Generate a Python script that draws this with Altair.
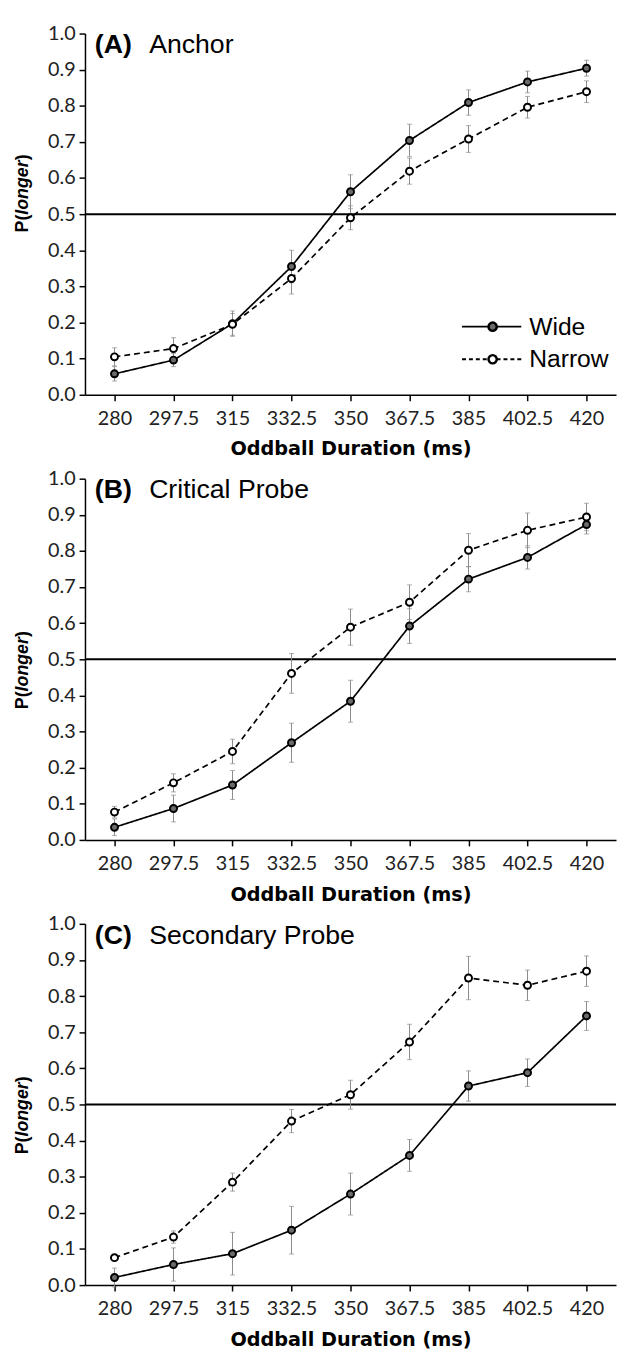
import altair as alt
import pandas as pd

durations = ["280", "297.5", "315", "332.5", "350", "367.5", "385", "402.5", "420"]

a_wide = [0.058, 0.096, 0.197, 0.355, 0.562, 0.704, 0.809, 0.866, 0.904]
a_wide_err = [0.020, 0.018, 0.035, 0.045, 0.047, 0.045, 0.035, 0.030, 0.022]
a_narrow = [0.105, 0.128, 0.195, 0.322, 0.490, 0.619, 0.708, 0.796, 0.839]
a_narrow_err = [0.025, 0.030, 0.030, 0.043, 0.033, 0.036, 0.037, 0.030, 0.030]

b_wide = [0.035, 0.087, 0.152, 0.269, 0.384, 0.592, 0.722, 0.782, 0.873]
b_wide_err = [0.023, 0.037, 0.040, 0.054, 0.058, 0.048, 0.035, 0.032, 0.026]
b_narrow = [0.077, 0.158, 0.245, 0.461, 0.589, 0.658, 0.802, 0.857, 0.894]
b_narrow_err = [0.016, 0.025, 0.034, 0.055, 0.050, 0.048, 0.046, 0.048, 0.038]

c_wide = [0.021, 0.057, 0.087, 0.152, 0.252, 0.359, 0.551, 0.588, 0.745]
c_wide_err = [0.026, 0.046, 0.059, 0.066, 0.058, 0.044, 0.042, 0.038, 0.040]
c_narrow = [0.076, 0.133, 0.285, 0.454, 0.527, 0.673, 0.850, 0.830, 0.869]
c_narrow_err = [0.008, 0.017, 0.025, 0.032, 0.040, 0.049, 0.060, 0.042, 0.042]

conditions = ["Wide", "Narrow"]
y_ticks = [0.0, 0.1, 0.2, 0.3, 0.4, 0.5, 0.6, 0.7, 0.8, 0.9, 1.0]
reference_level = [0.5]

W = 538
H = 366
TICK_FONT = "Lato"
ARIAL = "Liberation Sans"


def panel(letter, name, wide, wide_err, narrow, narrow_err, ytitle_center, legend=False):
    rows = []
    for cond, means, errs in (("Wide", wide, wide_err), ("Narrow", narrow, narrow_err)):
        for d, m, e in zip(durations, means, errs):
            rows.append({"dur": d, "cond": cond, "p": m, "lo": m - e, "hi": m + e})
    df = pd.DataFrame(rows)

    xscale = alt.Scale(type="point", padding=0.5, domain=durations)
    x_axis = alt.Axis(title="Oddball Duration (ms)", labelAngle=0, labelPadding=8,
                      titlePadding=12)
    x = alt.X("dur:O", sort=durations, scale=xscale, axis=x_axis)
    yscale = alt.Scale(domain=[0, 1], nice=False, zero=True)
    y_axis = alt.Axis(title=None, values=y_ticks, format=".1f", labelPadding=4)

    base = alt.Chart(df)
    err = base.mark_rule(color="#8a8a8a", strokeWidth=1).encode(
        x=x, y=alt.Y("lo:Q", scale=yscale, axis=y_axis), y2="hi:Q")
    cap_lo = base.mark_tick(color="#8a8a8a", size=5, thickness=1).encode(
        x=x, y=alt.Y("lo:Q", scale=yscale, axis=y_axis))
    cap_hi = base.mark_tick(color="#8a8a8a", size=5, thickness=1).encode(
        x=x, y=alt.Y("hi:Q", scale=yscale, axis=y_axis))
    line = base.mark_line(color="black", strokeWidth=1.7).encode(
        x=x, y=alt.Y("p:Q", scale=yscale, axis=y_axis),
        strokeDash=alt.StrokeDash("cond:N", scale=alt.Scale(domain=conditions, range=[[1, 0], [6, 4]]), legend=None),
        detail="cond:N")
    pts = base.mark_point(filled=True, size=50, stroke="black", strokeWidth=2, opacity=1).encode(
        x=x, y=alt.Y("p:Q", scale=yscale, axis=y_axis),
        fill=alt.Fill("cond:N", scale=alt.Scale(domain=conditions, range=["#6b6b6b", "white"]), legend=None))
    ref = alt.Chart(pd.DataFrame({"ref": reference_level})).mark_rule(color="black", strokeWidth=2).encode(
        y=alt.Y("ref:Q", scale=yscale, axis=y_axis))

    one = pd.DataFrame({"k": [0]})
    lab1 = alt.Chart(one).mark_text(text=letter, align="left", baseline="alphabetic", font=ARIAL,
                                    fontSize=27, fontWeight="bold", color="black").encode(
        x=alt.value(10), y=alt.value(20))
    lab2 = alt.Chart(one).mark_text(text=name, align="left", baseline="alphabetic", font=ARIAL,
                                    fontSize=27, color="black").encode(
        x=alt.value(65), y=alt.value(20))

    # y axis title "P(longer)" with italic part
    fs = 18
    y1 = ytitle_center + (fs * 3.056 + fs * 0.333 - fs * 1.0) / 2
    t1 = alt.Chart(one).mark_text(text="P(", angle=270, align="right", baseline="middle", font=ARIAL,
                                  fontSize=fs, fontWeight="bold", color="black").encode(
        x=alt.value(-63), y=alt.value(y1))
    t2 = alt.Chart(one).mark_text(text="longer", angle=270, align="left", baseline="middle", font=ARIAL,
                                  fontSize=fs, fontWeight="bold", fontStyle="italic", color="black").encode(
        x=alt.value(-63), y=alt.value(y1))
    t3 = alt.Chart(one).mark_text(text=")", angle=270, align="left", baseline="middle", font=ARIAL,
                                  fontSize=fs, fontWeight="bold", color="black").encode(
        x=alt.value(-63), y=alt.value(y1 - fs * 3.056))

    layers = [ref, err, cap_lo, cap_hi, line, pts, lab1, lab2, t1, t2, t3]

    if legend:
        leg = []
        for cond, yy, dash, fill in (("Wide", 297, [1, 0], "#6b6b6b"), ("Narrow", 330, [4, 3], "white")):
            leg.append(alt.Chart(one).mark_rule(color="black", strokeWidth=1.8, strokeDash=dash).encode(
                x=alt.value(382), x2=alt.value(442), y=alt.value(yy)))
            leg.append(alt.Chart(one).mark_point(filled=True, size=70, fill=fill, stroke="black",
                                                 strokeWidth=2.5, opacity=1).encode(
                x=alt.value(413), y=alt.value(yy)))
            leg.append(alt.Chart(one).mark_text(text=cond, align="left", baseline="middle", font=ARIAL,
                                                fontSize=25, color="black").encode(
                x=alt.value(450), y=alt.value(yy)))
        layers += leg

    return alt.layer(*layers).properties(width=W, height=H)


pA = panel("(A)", "Anchor", a_wide, a_wide_err, a_narrow, a_narrow_err, 162, legend=True)
pB = panel("(B)", "Critical Probe", b_wide, b_wide_err, b_narrow, b_narrow_err, 194)
pC = panel("(C)", "Secondary Probe", c_wide, c_wide_err, c_narrow, c_narrow_err, 194)

chart = alt.vconcat(pA, pB, pC, spacing=10).properties(
    padding={"left": 5, "top": 7, "right": 0, "bottom": 0}
).configure_view(stroke=None).configure_axis(
    domainColor="black", domainWidth=1.5, tickColor="black", tickWidth=1.5, tickSize=6,
    labelFont=TICK_FONT, labelFontSize=20, labelColor="#222222",
    titleFont="DejaVu Sans", titleFontSize=19.5, titleFontWeight="bold", titleColor="black",
    grid=False
)

chart.save("out.html", embed_options={"renderer": "svg", "actions": False})
